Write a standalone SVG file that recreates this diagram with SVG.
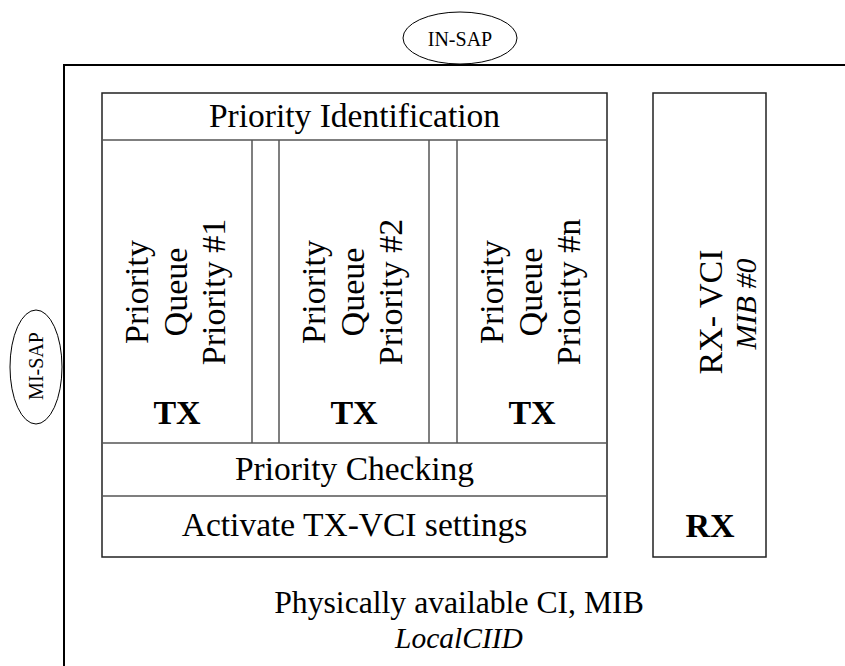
<svg xmlns="http://www.w3.org/2000/svg" width="845" height="666" viewBox="0 0 845 666">
<style>
  text { font-family: "Liberation Serif", "DejaVu Serif", serif; fill: #000; }
  .box { fill: #fff; stroke: #222; stroke-width: 1.5; }
  .sep { fill: none; stroke: #555; stroke-width: 1.5; }
  .frame { fill: none; stroke: #000; stroke-width: 2; }
  .ell { fill: #fff; stroke: #000; stroke-width: 1; }
  .lbl { font-size: 33.5px; text-anchor: middle; }
  .q { font-size: 34px; text-anchor: middle; }
  .big { font-size: 34px; font-weight: bold; text-anchor: middle; }
  .sap { font-size: 20px; text-anchor: middle; }
</style>
<g id="frame">
  <path class="frame" d="M64,666 V65 H845"/>
</g>
<g id="in-sap">
  <ellipse class="ell" cx="460" cy="38" rx="57" ry="26"/>
  <text class="sap" x="460" y="46">IN-SAP</text>
</g>
<g id="mi-sap">
  <ellipse class="ell" cx="36" cy="367" rx="26" ry="57"/>
  <text class="sap" transform="translate(43,366) rotate(-90)">MI-SAP</text>
</g>
<g id="tx-block">
  <rect class="box" x="102" y="93" width="505" height="464"/>
  <line class="sep" x1="102" y1="140" x2="607" y2="140"/>
  <line class="sep" x1="102" y1="443" x2="607" y2="443"/>
  <line class="sep" x1="102" y1="496" x2="607" y2="496"/>
  <line class="sep" x1="252" y1="140" x2="252" y2="443"/>
  <line class="sep" x1="279" y1="140" x2="279" y2="443"/>
  <line class="sep" x1="429" y1="140" x2="429" y2="443"/>
  <line class="sep" x1="457" y1="140" x2="457" y2="443"/>
</g>
<g id="priority-identification">
  <text class="lbl" x="354.5" y="127">Priority Identification</text>
</g>
<g id="queue-1">
  <text class="q" transform="translate(148,292) rotate(-90)">Priority</text>
  <text class="q" transform="translate(187,292) rotate(-90)">Queue</text>
  <text class="q" transform="translate(225,292) rotate(-90)">Priority #1</text>
  <text class="big" x="177" y="424">TX</text>
</g>
<g id="queue-2">
  <text class="q" transform="translate(325,292) rotate(-90)">Priority</text>
  <text class="q" transform="translate(364,292) rotate(-90)">Queue</text>
  <text class="q" transform="translate(402,292) rotate(-90)">Priority #2</text>
  <text class="big" x="354" y="424">TX</text>
</g>
<g id="queue-n">
  <text class="q" transform="translate(503,292) rotate(-90)">Priority</text>
  <text class="q" transform="translate(542,292) rotate(-90)">Queue</text>
  <text class="q" transform="translate(580,292) rotate(-90)">Priority #n</text>
  <text class="big" x="532" y="424">TX</text>
</g>
<g id="priority-checking">
  <text class="lbl" x="354.5" y="480">Priority Checking</text>
</g>
<g id="activate">
  <text class="lbl" x="354.5" y="536">Activate TX-VCI settings</text>
</g>
<g id="rx">
  <rect class="box" x="653" y="93" width="113" height="464"/>
  <text class="q" transform="translate(722,312) rotate(-90)">RX- VCI</text>
  <text class="q" style="font-size:30px;font-style:italic" transform="translate(756,304) rotate(-90)">MIB #0</text>
  <text class="big" x="710" y="537">RX</text>
</g>
<g id="physical">
  <text class="lbl" style="font-size:31.7px" x="459" y="613">Physically available CI, MIB</text>
  <text class="lbl" style="font-size:29.5px;font-style:italic" x="459" y="648">LocalCIID</text>
</g>
</svg>
